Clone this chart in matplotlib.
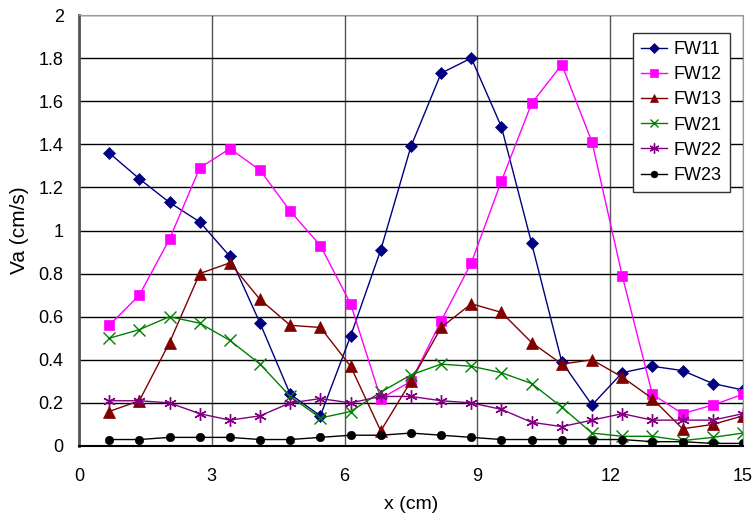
import numpy as np
import matplotlib.pyplot as plt

plt.rcParams['font.family'] = ['Liberation Sans', 'DejaVu Sans']

# measurement positions (22 stations across 15 cm)
x = np.arange(1, 23) * 15.0 / 22

fw11 = [1.36, 1.24, 1.13, 1.04, 0.88, 0.57, 0.24, 0.14, 0.51, 0.91, 1.39,
        1.73, 1.80, 1.48, 0.94, 0.39, 0.19, 0.34, 0.37, 0.35, 0.29, 0.26]
fw12 = [0.56, 0.70, 0.96, 1.29, 1.38, 1.28, 1.09, 0.93, 0.66, 0.22, 0.30,
        0.58, 0.85, 1.23, 1.59, 1.77, 1.41, 0.79, 0.24, 0.15, 0.19, 0.24]
fw13 = [0.16, 0.21, 0.48, 0.80, 0.85, 0.68, 0.56, 0.55, 0.37, 0.07, 0.30,
        0.55, 0.66, 0.62, 0.48, 0.38, 0.40, 0.32, 0.22, 0.08, 0.10, 0.14]
fw21 = [0.50, 0.54, 0.60, 0.57, 0.49, 0.38, 0.23, 0.13, 0.16, 0.25, 0.33,
        0.38, 0.37, 0.34, 0.29, 0.18, 0.06, 0.045, 0.045, 0.025, 0.04, 0.06]
fw22 = [0.21, 0.21, 0.20, 0.15, 0.12, 0.14, 0.20, 0.22, 0.20, 0.23, 0.23,
        0.21, 0.20, 0.17, 0.11, 0.09, 0.12, 0.15, 0.12, 0.12, 0.12, 0.15]
fw23 = [0.03, 0.03, 0.04, 0.04, 0.04, 0.03, 0.03, 0.04, 0.05, 0.05, 0.06,
        0.05, 0.04, 0.03, 0.03, 0.03, 0.03, 0.03, 0.02, 0.02, 0.012, 0.012]

series = [
    ('FW11', fw11, '#000080', 'D', 6),
    ('FW12', fw12, '#FF00FF', 's', 7),
    ('FW13', fw13, '#800000', '^', 8),
    ('FW21', fw21, '#008000', 'x', 8),
    ('FW22', fw22, '#800080', (6, 2, 0), 9),
    ('FW23', fw23, '#000000', 'o', 6),
]

fig = plt.figure(figsize=(7.55, 5.14), dpi=100)
ax = fig.add_axes([0.1046, 0.1323, 0.8794, 0.8385])

for name, y, c, m, ms in series:
    thin = m == 'x' or isinstance(m, tuple)
    ax.plot(x, y, color=c, marker=m, markersize=ms, linewidth=1,
            markeredgewidth=1 if thin else 0.5, label=name)

ax.set_xlim(0, 15)
ax.set_ylim(0, 2)
ax.set_xticks([0, 3, 6, 9, 12, 15])
yt = np.round(np.arange(0, 2.01, 0.2), 1)
ax.set_yticks(yt)
ax.set_yticklabels(['%g' % v for v in yt])
ax.tick_params(labelsize=13, length=0)
ax.tick_params(axis='x', pad=16)
ax.tick_params(axis='y', pad=11)

ax.yaxis.grid(True, color='black', linewidth=1)
ax.xaxis.grid(True, color='#555555', linewidth=1)
ax.set_axisbelow(True)
for s in ['top', 'right']:
    ax.spines[s].set_color('#999999')
ax.spines['left'].set_color('#555555')
ax.spines['left'].set_linewidth(2)
ax.spines['bottom'].set_color('black')
ax.spines['bottom'].set_linewidth(1.5)

ax.set_xlabel('x (cm)', fontsize=14, labelpad=8)
ax.set_ylabel('Va (cm/s)', fontsize=15, labelpad=7)

leg = ax.legend(loc='upper right', bbox_to_anchor=(0.980, 0.958), fontsize=13,
                fancybox=False, framealpha=1, edgecolor='#333333',
                handlelength=1.45, handletextpad=0.35, borderpad=0.45,
                labelspacing=0.45, borderaxespad=0, markerscale=0.8)
leg.get_frame().set_linewidth(1)

fig.savefig('out.png', dpi=100)
